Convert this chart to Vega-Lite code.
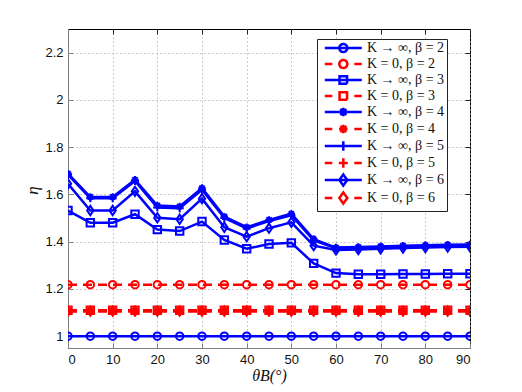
{
  "$schema": "https://vega.github.io/schema/vega-lite/v6.json",
  "width": 402,
  "height": 319,
  "autosize": "none",
  "padding": {"left": 68, "top": 29, "right": 52, "bottom": 44},
  "config": {"view": {"stroke": "black", "strokeWidth": 1}, "font": "Liberation Sans"},
  "data": {"values": [
    {"t": 0,  "a2": 1, "z2": 1.218, "a3": 1.532, "z3": 1.11, "a4": 1.688, "z4": 1.108, "a5": 1.683, "z5": 1.106, "a6": 1.645, "z6": 1.106},
    {"t": 5,  "a2": 1, "z2": 1.218, "a3": 1.48,  "z3": 1.11, "a4": 1.589, "z4": 1.108, "a5": 1.584, "z5": 1.106, "a6": 1.532, "z6": 1.106},
    {"t": 10, "a2": 1, "z2": 1.218, "a3": 1.48,  "z3": 1.11, "a4": 1.589, "z4": 1.108, "a5": 1.584, "z5": 1.106, "a6": 1.532, "z6": 1.106},
    {"t": 15, "a2": 1, "z2": 1.218, "a3": 1.516, "z3": 1.11, "a4": 1.662, "z4": 1.108, "a5": 1.657, "z5": 1.106, "a6": 1.613, "z6": 1.106},
    {"t": 20, "a2": 1, "z2": 1.218, "a3": 1.451, "z3": 1.11, "a4": 1.553, "z4": 1.108, "a5": 1.545, "z5": 1.106, "a6": 1.501, "z6": 1.106},
    {"t": 25, "a2": 1, "z2": 1.218, "a3": 1.445, "z3": 1.11, "a4": 1.549, "z4": 1.108, "a5": 1.541, "z5": 1.106, "a6": 1.495, "z6": 1.106},
    {"t": 30, "a2": 1, "z2": 1.218, "a3": 1.485, "z3": 1.11, "a4": 1.627, "z4": 1.108, "a5": 1.62,  "z5": 1.106, "a6": 1.582, "z6": 1.106},
    {"t": 35, "a2": 1, "z2": 1.218, "a3": 1.407, "z3": 1.11, "a4": 1.506, "z4": 1.108, "a5": 1.5,   "z5": 1.106, "a6": 1.461, "z6": 1.106},
    {"t": 40, "a2": 1, "z2": 1.218, "a3": 1.37,  "z3": 1.11, "a4": 1.461, "z4": 1.108, "a5": 1.456, "z5": 1.106, "a6": 1.421, "z6": 1.106},
    {"t": 45, "a2": 1, "z2": 1.218, "a3": 1.39,  "z3": 1.11, "a4": 1.492, "z4": 1.108, "a5": 1.487, "z5": 1.106, "a6": 1.457, "z6": 1.106},
    {"t": 50, "a2": 1, "z2": 1.218, "a3": 1.395, "z3": 1.11, "a4": 1.518, "z4": 1.108, "a5": 1.512, "z5": 1.106, "a6": 1.482, "z6": 1.106},
    {"t": 55, "a2": 1, "z2": 1.218, "a3": 1.308, "z3": 1.11, "a4": 1.411, "z4": 1.108, "a5": 1.405, "z5": 1.106, "a6": 1.383, "z6": 1.106},
    {"t": 60, "a2": 1, "z2": 1.218, "a3": 1.267, "z3": 1.11, "a4": 1.375, "z4": 1.108, "a5": 1.372, "z5": 1.106, "a6": 1.365, "z6": 1.106},
    {"t": 65, "a2": 1, "z2": 1.218, "a3": 1.262, "z3": 1.11, "a4": 1.377, "z4": 1.108, "a5": 1.374, "z5": 1.106, "a6": 1.367, "z6": 1.106},
    {"t": 70, "a2": 1, "z2": 1.218, "a3": 1.262, "z3": 1.11, "a4": 1.38,  "z4": 1.108, "a5": 1.377, "z5": 1.106, "a6": 1.37,  "z6": 1.106},
    {"t": 75, "a2": 1, "z2": 1.218, "a3": 1.263, "z3": 1.11, "a4": 1.383, "z4": 1.108, "a5": 1.38,  "z5": 1.106, "a6": 1.373, "z6": 1.106},
    {"t": 80, "a2": 1, "z2": 1.218, "a3": 1.263, "z3": 1.11, "a4": 1.385, "z4": 1.108, "a5": 1.382, "z5": 1.106, "a6": 1.375, "z6": 1.106},
    {"t": 85, "a2": 1, "z2": 1.218, "a3": 1.264, "z3": 1.11, "a4": 1.387, "z4": 1.108, "a5": 1.384, "z5": 1.106, "a6": 1.377, "z6": 1.106},
    {"t": 90, "a2": 1, "z2": 1.218, "a3": 1.264, "z3": 1.11, "a4": 1.388, "z4": 1.108, "a5": 1.385, "z5": 1.106, "a6": 1.378, "z6": 1.106}
  ]},
  "transform": [
    {"fold": ["a2", "z2", "a3", "z3", "a4", "z4", "a5", "z5", "a6", "z6"], "as": ["series", "eta"]}
  ],
  "layer": [
    {
      "transform": [{"filter": "datum.series[0] == 'a'"}],
      "mark": {"type": "line", "strokeWidth": 2.5, "clip": true},
      "encoding": {
        "x": {"field": "t", "type": "quantitative", "scale": {"domain": [0, 90], "nice": false},
          "axis": {"orient": "bottom", "values": [0, 10, 20, 30, 40, 50, 60, 70, 80, 90], "grid": true, "gridDash": [1, 3], "gridColor": "#9a9a9a", "gridOpacity": 1,
            "domainColor": "#808080", "tickColor": "#808080", "tickSize": -5, "labelPadding": 10, "labelFontSize": 13, "labelColor": "#111",
            "title": "θB(°)", "titleFont": "Liberation Serif", "titleFontStyle": "italic", "titleFontWeight": "normal", "titleFontSize": 16, "titlePadding": 1, "titleColor": "#111"}},
        "y": {"field": "eta", "type": "quantitative", "scale": {"domain": [0.95, 2.3], "nice": false, "zero": false},
          "axis": {"orient": "left", "values": [1, 1.2, 1.4, 1.6, 1.8, 2, 2.2], "format": ".2~f", "grid": true, "gridDash": [1, 3], "gridColor": "#9a9a9a", "gridOpacity": 1,
            "domainColor": "#808080", "tickColor": "#808080", "tickSize": -5, "labelPadding": 10, "labelFontSize": 13, "labelColor": "#111", "labelOverlap": false, "labelBound": false,
            "title": "η", "titleX": -27, "titleY": 161, "titleFont": "Liberation Serif", "titleFontStyle": "italic", "titleFontWeight": "normal", "titleFontSize": 17, "titleColor": "#111"}},
        "color": {"field": "series", "type": "nominal",
          "scale": {"domain": ["a2", "z2", "a3", "z3", "a4", "z4", "a5", "z5", "a6", "z6"], "range": ["#0000ff", "#ff0000", "#0000ff", "#ff0000", "#0000ff", "#ff0000", "#0000ff", "#ff0000", "#0000ff", "#ff0000"]},
          "legend": {
            "orient": "none", "legendX": 249, "legendY": 10, "title": null,
            "labelExpr": "({'a2':'K → ∞, β = 2','z2':'K = 0, β = 2','a3':'K → ∞, β = 3','z3':'K = 0, β = 3','a4':'K → ∞, β = 4','z4':'K = 0, β = 4','a5':'K → ∞, β = 5','z5':'K = 0, β = 5','a6':'K → ∞, β = 6','z6':'K = 0, β = 6'})[datum.value] + '\u00a0\u00a0\u00a0\u00a0\u00a0\u00a0\u00a0'",
            "labelFont": "Liberation Serif", "labelFontSize": 14, "labelColor": "#111", "labelLimit": 300, "labelOffset": 5,
            "symbolSize": 100, "symbolStrokeWidth": 2.5, "symbolType": "M-1,0L1,0",
            "strokeColor": "#222", "fillColor": "white", "padding": 2, "rowPadding": -4.2,
            "encode": {
              "symbols": {"update": {
                "shape": {"signal": "({'a2':'M-3.7,0L3.7,0M0.8,0A0.8,0.8 0 1,1 -0.8,0A0.8,0.8 0 1,1 0.8,0Z','z2':'M-3.7,0L-2.2,0M2.2,0L3.7,0M0.8,0A0.8,0.8 0 1,1 -0.8,0A0.8,0.8 0 1,1 0.8,0Z','a3':'M-3.7,0L3.7,0M-0.75,-0.75L0.75,-0.75L0.75,0.75L-0.75,0.75Z','z3':'M-3.7,0L-2.2,0M2.2,0L3.7,0M-0.75,-0.75L0.75,-0.75L0.75,0.75L-0.75,0.75Z','a4':'M-3.7,0L3.7,0M0,-0.85L0,0.85M-0.6,-0.6L0.6,0.6M-0.6,0.6L0.6,-0.6','z4':'M-3.7,0L-2.2,0M2.2,0L3.7,0M-0.85,0L0.85,0M0,-0.85L0,0.85M-0.6,-0.6L0.6,0.6M-0.6,0.6L0.6,-0.6','a5':'M-3.7,0L3.7,0M0,-0.95L0,0.95','z5':'M-3.7,0L-2.2,0M2.2,0L3.7,0M-0.9,0L0.9,0M0,-0.95L0,0.95','a6':'M-3.7,0L3.7,0M0,-1.1L0.8,0L0,1.1L-0.8,0Z','z6':'M-3.7,0L-2.2,0M2.2,0L3.7,0M0,-1.1L0.8,0L0,1.1L-0.8,0Z'})[datum.value]"},
                "x": {"value": 24.3},
                "size": {"value": 100},
                "strokeWidth": {"value": 2.5},
                "strokeDash": {"value": [1, 0]},
                "fill": {"value": "transparent"},
                "opacity": {"value": 1}
              }},
              "labels": {"update": {"x": {"value": 48}}}
            }
          }}
      }
    },
    {
      "transform": [{"filter": "datum.series[0] == 'z'"}],
      "mark": {"type": "line", "strokeWidth": 2.5, "strokeDash": [9, 6], "clip": true},
      "encoding": {
        "x": {"field": "t", "type": "quantitative", "scale": {"domain": [0, 90], "nice": false}, "axis": null},
        "y": {"field": "eta", "type": "quantitative", "scale": {"domain": [0.95, 2.3], "nice": false, "zero": false}, "axis": null},
        "color": {"field": "series", "type": "nominal",
          "scale": {"domain": ["a2", "z2", "a3", "z3", "a4", "z4", "a5", "z5", "a6", "z6"], "range": ["#0000ff", "#ff0000", "#0000ff", "#ff0000", "#0000ff", "#ff0000", "#0000ff", "#ff0000", "#0000ff", "#ff0000"]}}
      }
    },
    {
      "transform": [{"filter": "datum.series[0] == 'a'"}],
      "mark": {"type": "point", "filled": false, "color": "#0000ff", "strokeWidth": 2, "size": 55, "opacity": 1, "clip": true},
      "encoding": {
        "x": {"field": "t", "type": "quantitative", "scale": {"domain": [0, 90], "nice": false},
          "axis": {"orient": "top", "values": [0, 10, 20, 30, 40, 50, 60, 70, 80, 90], "grid": false, "labels": false, "domain": false, "tickColor": "#222", "tickSize": -5, "title": null}},
        "y": {"field": "eta", "type": "quantitative", "scale": {"domain": [0.95, 2.3], "nice": false, "zero": false},
          "axis": {"orient": "right", "values": [1, 1.2, 1.4, 1.6, 1.8, 2, 2.2], "grid": false, "labels": false, "domain": false, "tickColor": "#222", "tickSize": -5, "title": null}},
        "shape": {"field": "series", "type": "nominal",
          "scale": {"domain": ["a2", "z2", "a3", "z3", "a4", "z4", "a5", "z5", "a6", "z6", "_"],
            "range": ["circle", "circle", "square", "square",
              "M-1,0L1,0M0,-1L0,1M-0.7,-0.7L0.7,0.7M-0.7,0.7L0.7,-0.7", "M-1,0L1,0M0,-1L0,1M-0.7,-0.7L0.7,0.7M-0.7,0.7L0.7,-0.7",
              "M-1.1,0L1.1,0M0,-1.1L0,1.1", "M-1.1,0L1.1,0M0,-1.1L0,1.1",
              "M0,-1.25L0.85,0L0,1.25L-0.85,0Z", "M0,-1.25L0.85,0L0,1.25L-0.85,0Z", "circle"]},
          "legend": null}
      }
    },
    {
      "transform": [{"filter": "datum.series[0] == 'z'"}],
      "mark": {"type": "point", "filled": false, "color": "#ff0000", "strokeWidth": 2, "size": 55, "opacity": 1, "clip": true},
      "encoding": {
        "x": {"field": "t", "type": "quantitative", "scale": {"domain": [0, 90], "nice": false}, "axis": null},
        "y": {"field": "eta", "type": "quantitative", "scale": {"domain": [0.95, 2.3], "nice": false, "zero": false}, "axis": null},
        "shape": {"field": "series", "type": "nominal",
          "scale": {"domain": ["a2", "z2", "a3", "z3", "a4", "z4", "a5", "z5", "a6", "z6", "_"],
            "range": ["circle", "circle", "square", "square",
              "M-1,0L1,0M0,-1L0,1M-0.7,-0.7L0.7,0.7M-0.7,0.7L0.7,-0.7", "M-1,0L1,0M0,-1L0,1M-0.7,-0.7L0.7,0.7M-0.7,0.7L0.7,-0.7",
              "M-1.1,0L1.1,0M0,-1.1L0,1.1", "M-1.1,0L1.1,0M0,-1.1L0,1.1",
              "M0,-1.25L0.85,0L0,1.25L-0.85,0Z", "M0,-1.25L0.85,0L0,1.25L-0.85,0Z", "circle"]},
          "legend": null}
      }
    }
  ],
  "resolve": {"axis": {"x": "independent", "y": "independent"}}
}
